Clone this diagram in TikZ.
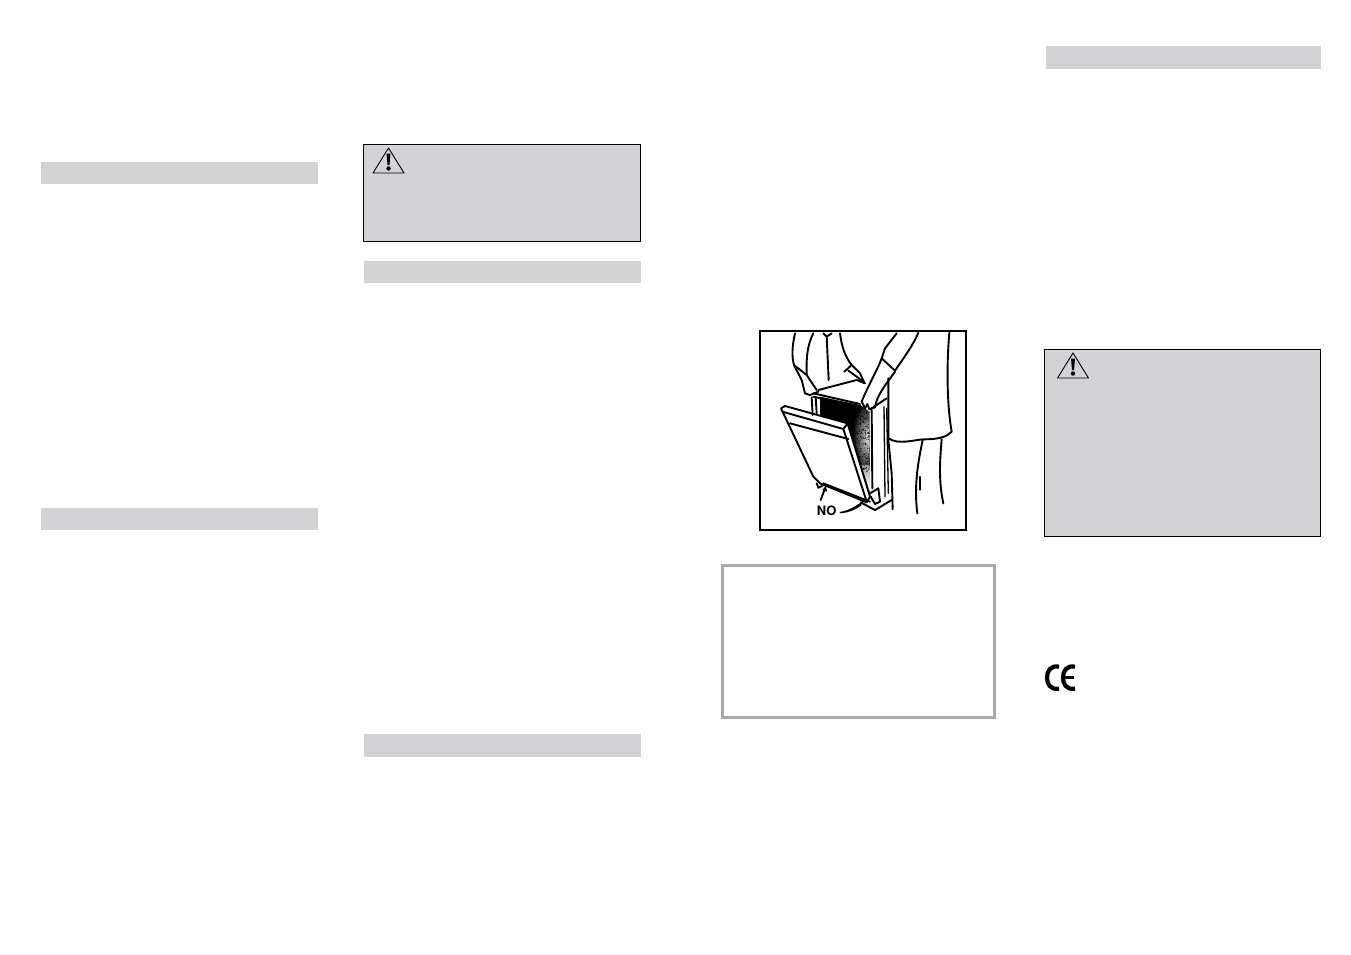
\documentclass[tikz,border=0pt]{standalone}
\usepackage{xcolor}
\usepackage{fontspec}
\setsansfont{TeX Gyre Heros}
\usepackage{tikz}
\usetikzlibrary{arrows.meta, positioning}
\definecolor{bargray}{RGB}{209, 211, 212}
\definecolor{framegray}{RGB}{167, 169, 172}
\tikzset{
    headbar/.style={fill=bargray, draw=none},
    warnbox/.style={fill=bargray, draw=black, line width=0.9pt},
    sketch/.style={line width=1.9pt, line cap=round, line join=round},
    sketchthin/.style={line width=1.3pt, line cap=round, line join=round}
}

\begin{document}
\begin{tikzpicture}[x=1pt, y=-1pt]
    \useasboundingbox (0,0) rectangle (1351,954);
    \fill[white] (0,0) rectangle (1351,954);
    % header bars
    \fill[headbar] (41,162) rectangle (318,184);
    \fill[headbar] (41,508) rectangle (318,530);
    \fill[headbar] (364,261) rectangle (641,283);
    \fill[headbar] (364,734) rectangle (641,757);
    \fill[headbar] (1046,46) rectangle (1321,69);
    % warning boxes
    \draw[warnbox] (363.5,144.5) rectangle (640.5,241.5);
    \draw[warnbox] (1044.5,349.5) rectangle (1320.5,536.5);
    \foreach \wx/\wy in {388.5/148, 1073/353} {
        \begin{scope}[shift={(\wx,\wy)}]
            \draw[line width=0.9pt, line join=round] (0,0) -- (15.5,25) -- (-15.5,25) -- cycle;
            \fill (-2,5.5) -- (2,5.5) -- (1,17) -- (-1,17) -- cycle;
            \fill (0,20.5) circle (2.2);
        \end{scope}
    }
    % note box
    \draw[framegray, line width=3pt] (722.5,565.5) rectangle (994.5,717.5);
    % CE mark
    \begin{scope}[shift={(1035,650)}, x=1/3*1pt, y=-1/3*1pt]
        \draw[line width=4.2pt] (72,50) .. controls (45,45) and (36,65) .. (36,83) .. controls (36,101) and (45,120) .. (72,116);
        \draw[line width=4.2pt] (120,50) .. controls (93,45) and (84,65) .. (84,83) .. controls (84,101) and (93,120) .. (120,116);
        \draw[line width=3.2pt] (88,83) -- (118,83);
    \end{scope}
    % illustration
    \draw[line width=2.6pt] (760,331) rectangle (966,530);
    \begin{scope}[shift={(750,320)}, x=1/3*1pt, y=-1/3*1pt]
        % dark inside of the cabinet
        \begin{scope}
            \clip (210,230) -- (330,255) -- (358,275) -- (360,515) -- (290,310) -- (210,285) -- cycle;
            \fill[black] (200,220) rectangle (370,520);
            \shade[inner color=black!15, outer color=black] (352,355) ellipse[x radius=15pt, y radius=38pt];
            \shade[top color=black!40, bottom color=white] (300,435) rectangle (370,500);
            \fill[white] (300,499) rectangle (370,520);
            \pgfmathsetseed{7}
            \foreach \i in {1,...,300} {
                \pgfmathsetmacro{\dotx}{310+rnd*50}
                \pgfmathsetmacro{\doty}{265+rnd*190}
                \fill (\dotx,\doty) circle[radius=0.5pt];
            }
        \end{scope}
        % left person
        \draw[sketch] (135,40) .. controls (126,80) and (125,110) .. (132,135) -- (155,180) -- (165,220) -- (180,225) -- (205,215);
        \draw[sketch] (132,135) -- (170,165) -- (200,210);
        \draw[sketch] (190,40) .. controls (175,70) and (168,100) .. (170,165);
        \draw[sketch] (220,40) -- (230,50) -- (245,40);
        \draw[sketch] (230,48) -- (236,180);
        \draw[sketch] (270,40) .. controls (275,80) and (285,110) .. (305,135) -- (283,155);
        \draw[sketch] (305,135) -- (330,160) -- (343,188) -- (320,170) -- (295,152);
        % right person
        \draw[sketch] (440,40) -- (405,85) -- (395,115) -- (435,152);
        \draw[sketch] (505,38) .. controls (490,75) and (460,115) .. (435,152);
        \draw[sketch] (395,115) .. controls (380,155) and (355,195) .. (335,245);
        \draw[sketch] (435,155) .. controls (410,190) and (380,225) .. (375,262);
        \draw[sketch] (335,245) -- (345,265) -- (352,252) -- (358,268) -- (375,262);
        \draw[sketch] (598,38) .. controls (590,130) and (590,250) .. (605,335) .. controls (590,350) and (570,358) .. (520,358) .. controls (490,360) and (445,375) .. (415,355);
        \draw[sketch] (518,360) .. controls (508,410) and (490,490) .. (502,580);
        \draw[sketch] (575,358) .. controls (570,420) and (565,480) .. (580,550);
        \draw[sketchthin] (510,470) -- (510,510);
        % cabinet
        \draw[sketch] (205,210) -- (320,180) -- (345,190);
        \draw[sketch] (190,220) -- (330,252);
        \draw[sketch] (190,230) -- (330,262);
        \draw[sketch] (185,232) -- (188,285);
        \draw[sketch] (197,232) -- (200,280);
        \draw[sketch] (365,265) -- (410,235);
        \draw[sketch] (415,175) -- (415,360) -- (425,460) -- (428,568);
        \draw[sketch] (365,270) -- (367,505);
        \draw[sketchthin] (402,260) -- (405,530);
        \draw[sketchthin] (410,265) -- (415,520);
        \draw[sketch] (425,540) -- (375,570) -- (332,547);
        \draw[sketch] (360,520) -- (385,505) -- (390,545) -- (375,552) -- (362,530);
        % door
        \draw[sketch] (93,265) -- (105,258) -- (293,310) -- (360,530) -- (350,547) -- (210,490) -- (190,470) -- cycle;
        \draw[sketch] (97,275) -- (280,327) -- (350,545);
        \draw[sketch] (120,310) -- (295,357);
        \draw[sketch] (280,327) -- (293,310);
        \draw[sketch] (220,490) -- (360,545);
        \draw[sketch] (200,490) -- (205,503) -- (218,497);
        % arrows to the feet
        \draw[sketch] (225,505) -- (212,540);
        \fill (228,497) -- (231,515) -- (217,510) -- cycle;
        \node[font=\sffamily\bfseries\fontsize{13}{13}\selectfont, inner sep=0pt] (nolabel) at (230,573) {NO};
        \fill (nolabel.east) ++(8,3) .. controls (295,572) and (315,560) .. (340,542) -- (332,558) .. controls (315,570) and (295,578) .. (272,580) -- cycle;
    \end{scope}
\end{tikzpicture}
\end{document}
